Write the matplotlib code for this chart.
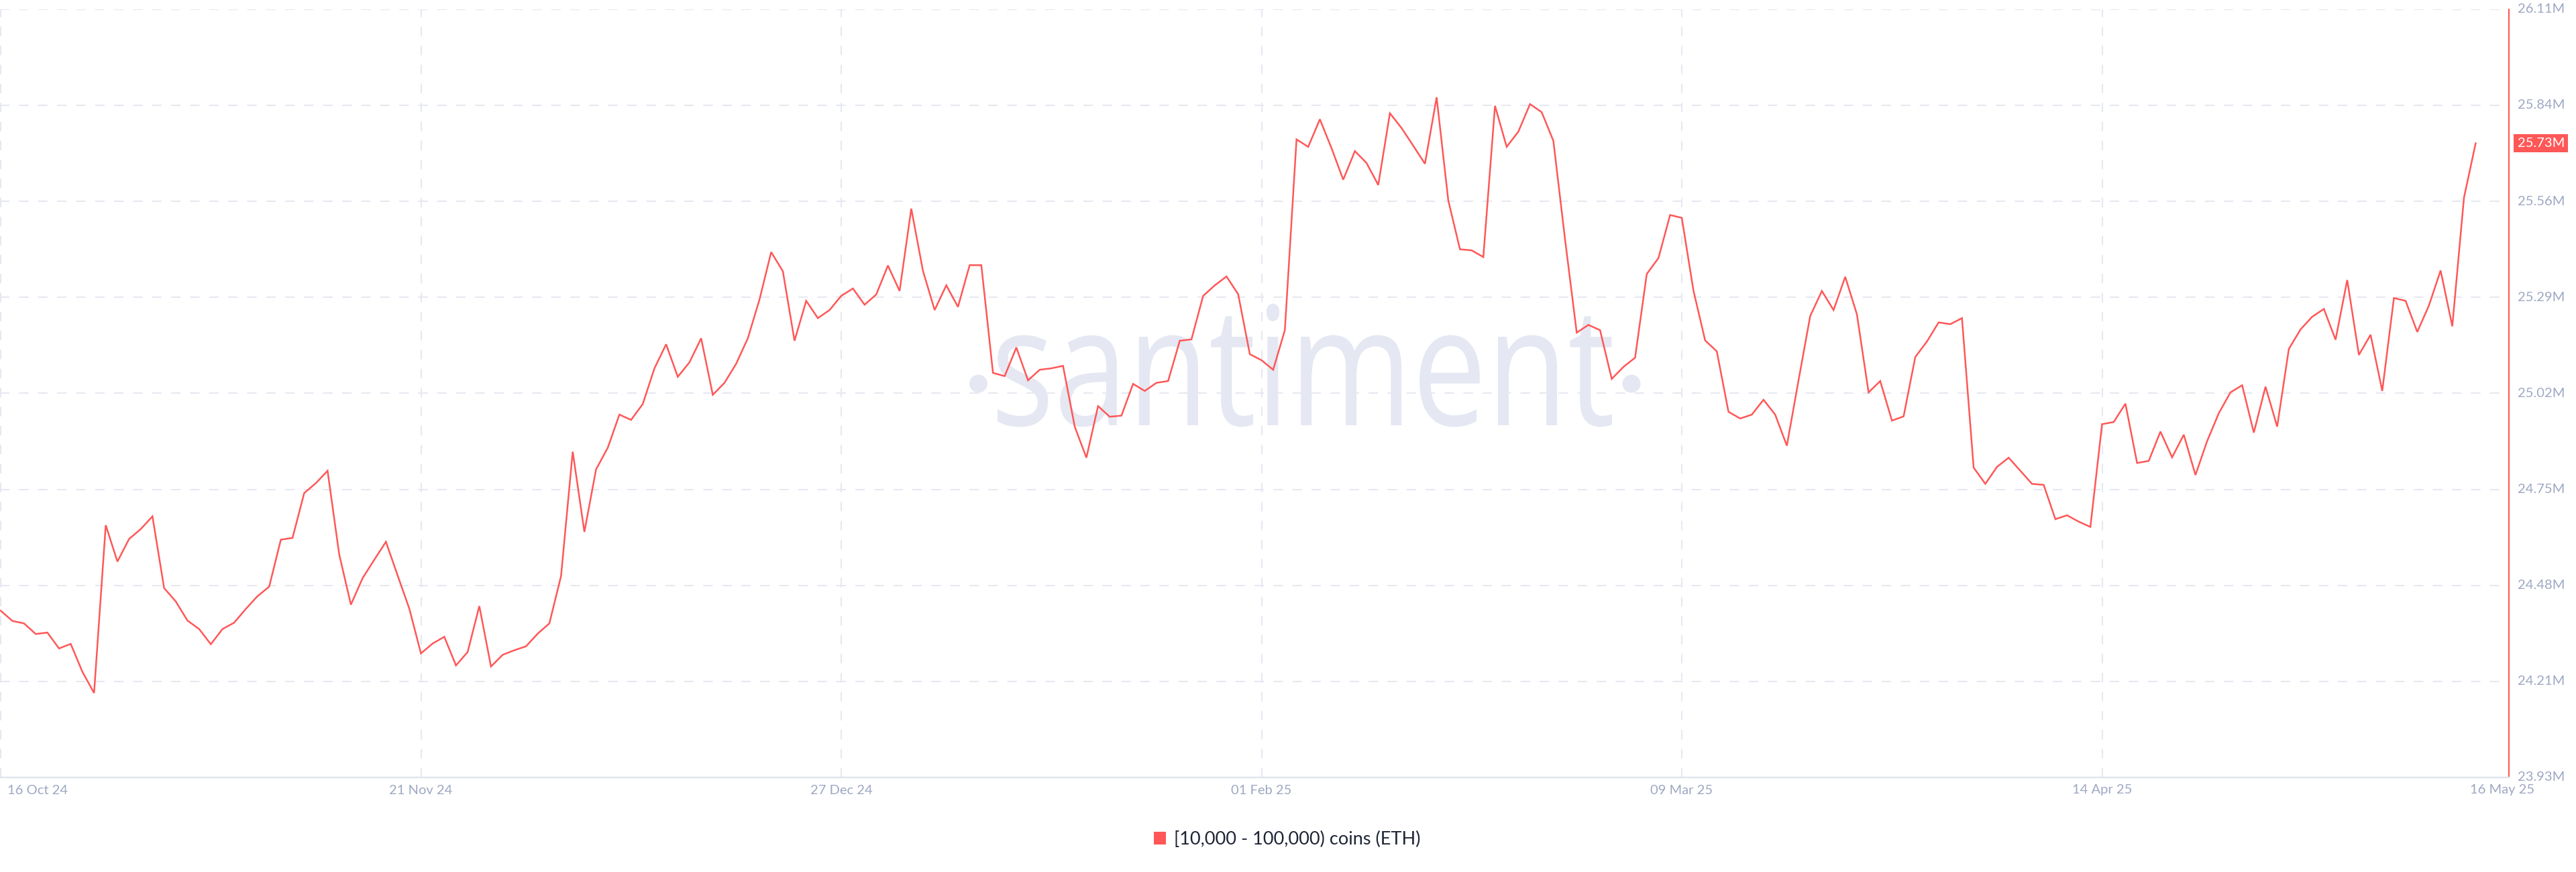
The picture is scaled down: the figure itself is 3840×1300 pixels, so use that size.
import matplotlib
matplotlib.use("Agg")
import matplotlib.pyplot as plt
import matplotlib.dates as mdates
import matplotlib.transforms as mtransforms
from matplotlib.textpath import TextPath
from matplotlib.patches import PathPatch, Patch, Ellipse
from matplotlib.font_manager import FontProperties
import pandas as pd
import numpy as np

# ---------------- data (millions of addresses) ----------------
start_date = "2024-10-16"
vals_oct_nov = [24.406, 24.377, 24.370, 24.340, 24.344, 24.299, 24.312, 24.233, 24.173, 24.648,
                24.545, 24.609, 24.637, 24.673, 24.470, 24.432, 24.378, 24.354, 24.311, 24.354,
                24.372, 24.411, 24.447, 24.474, 24.607, 24.612, 24.739, 24.767, 24.802, 24.565,
                24.423, 24.498, 24.550, 24.601, 24.506, 24.412, 24.285, 24.313, 24.332, 24.251,
                24.289, 24.419, 24.248, 24.281, 24.294, 24.305]
vals_dec = [24.341, 24.370, 24.504, 24.856, 24.629, 24.806, 24.867, 24.961, 24.946, 24.991,
            25.092, 25.160, 25.068, 25.109, 25.177, 25.017, 25.051, 25.105, 25.177, 25.287,
            25.421, 25.367, 25.170, 25.283, 25.234, 25.257, 25.297, 25.318, 25.272, 25.301,
            25.383]
vals_jan = [25.311, 25.544, 25.368, 25.257, 25.327, 25.266, 25.384, 25.384, 25.079, 25.070,
            25.151, 25.058, 25.088, 25.092, 25.099, 24.927, 24.839, 24.985, 24.955, 24.958,
            25.048, 25.028, 25.051, 25.056, 25.170, 25.174, 25.297, 25.327, 25.352, 25.302,
            25.132]
vals_feb = [25.115, 25.088, 25.200, 25.740, 25.719, 25.797, 25.715, 25.626, 25.707, 25.673,
            25.611, 25.814, 25.772, 25.722, 25.671, 25.859, 25.567, 25.429, 25.426, 25.407,
            25.835, 25.719, 25.762, 25.840, 25.817, 25.736, 25.457, 25.193]
vals_mar = [25.215, 25.200, 25.062, 25.096, 25.122, 25.359, 25.404, 25.526, 25.518, 25.312,
            25.171, 25.140, 24.969, 24.950, 24.961, 25.003, 24.961, 24.873, 25.058, 25.240,
            25.311, 25.257, 25.351, 25.245, 25.024, 25.056, 24.944, 24.956, 25.124, 25.168,
            25.222]
vals_apr = [25.217, 25.234, 24.811, 24.765, 24.813, 24.839, 24.802, 24.765, 24.762, 24.665,
            24.676, 24.658, 24.643, 24.934, 24.940, 24.992, 24.824, 24.830, 24.913, 24.840,
            24.904, 24.790, 24.886, 24.965, 25.024, 25.044, 24.910, 25.040, 24.927, 25.147]
vals_may = [25.202, 25.238, 25.260, 25.173, 25.342, 25.130, 25.187, 25.028, 25.291, 25.283,
            25.195, 25.270, 25.369, 25.211, 25.575, 25.729]

values = vals_oct_nov + vals_dec + vals_jan + vals_feb + vals_mar + vals_apr + vals_may
dates = pd.date_range(start_date, periods=len(values), freq="D")

y_ticks = [23.934, 24.2058, 24.4776, 24.7494, 25.0212, 25.2930, 25.5648, 25.8366, 26.1084]
y_tick_labels = ["23.93M", "24.21M", "24.48M", "24.75M", "25.02M", "25.29M", "25.56M", "25.84M", "26.11M"]
x_tick_dates = ["2024-10-16", "2024-11-21", "2024-12-27", "2025-02-01", "2025-03-09", "2025-04-14", "2025-05-16"]
x_tick_labels = ["16 Oct 24", "21 Nov 24", "27 Dec 24", "01 Feb 25", "09 Mar 25", "14 Apr 25", "16 May 25"]
series_label = "[10,000 - 100,000) coins (ETH)"
last_label = "25.73M"

# ---------------- style ----------------
RED = "#ff5757"
GRID = "#e6e8f1"
TICK = "#9ea8c3"
WATER = "#e5e8f2"
FONT = ["Lato", "DejaVu Sans"]
plt.rcParams["font.family"] = FONT

W, H, DPI = 3840, 1300, 100
fig = plt.figure(figsize=(W / DPI, H / DPI), dpi=DPI)
fig.patch.set_facecolor("white")

ax_left, ax_right = 0 / W, 3740 / W
ax_bottom, ax_top = (H - 1159) / H, (H - 13.8) / H
ax = fig.add_axes([ax_left, ax_bottom, ax_right - ax_left, ax_top - ax_bottom])
ax.set_facecolor("none")

xnum = mdates.date2num(dates)
x0 = xnum[0]
tick_x = mdates.date2num(pd.to_datetime(x_tick_dates))
ax.set_xlim(x0 - 0.0575, x0 + 214.85)
ax.set_ylim(y_ticks[0], y_ticks[-1])

# watermark  "·santiment·"
fp = FontProperties(family="Open Sans", weight="normal")
tp = TextPath((0, 0), "santiment", size=100, prop=fp)
xp = TextPath((0, 0), "x", size=100, prop=fp)
bb = tp.get_extents()
xh = xp.get_extents().height
sx = (2403 - 1487) / bb.width
sy = 132 / xh
wm_tr = (mtransforms.Affine2D().translate(-bb.x0, 0).scale(sx, sy)
         .translate(1487, H - 634))
ident = mtransforms.IdentityTransform()
fig.add_artist(PathPatch(tp, facecolor=WATER, edgecolor="none",
                         transform=wm_tr + ident, zorder=0))
for cx in (1458.5, 2432):
    fig.add_artist(Ellipse((cx, H - 572), 27, 27, facecolor=WATER, edgecolor="none",
                           transform=ident, zorder=0))

# grid
dash = (0, (6.8, 6.8))
for y in y_ticks[1:]:
    ax.axhline(y, color=GRID, lw=1.5, linestyle=dash, zorder=1)
for xv in tick_x[:-1]:
    ax.axvline(xv, color=GRID, lw=1.5, linestyle=dash, zorder=1)

# series
ax.plot(xnum, values, color=RED, lw=1.8, solid_joinstyle="miter", zorder=3)

# spines
for s in ["left", "top"]:
    ax.spines[s].set_visible(False)
ax.spines["bottom"].set_color("#dfe3ec")
ax.spines["bottom"].set_linewidth(1.6)
ax.spines["right"].set_color(RED)
ax.spines["right"].set_linewidth(1.5)
ax.set_xticks([])
ax.set_yticks([])

# y labels
ytr = ax.get_yaxis_transform()
for y, lab in zip(y_ticks, y_tick_labels):
    ax.annotate(lab, xy=(1, y), xycoords=ytr, xytext=(12.5, 0), textcoords="offset pixels",
                ha="left", va="center", fontsize=14.5, color=TICK, annotation_clip=False)
ax.annotate(last_label, xy=(1, values[-1]), xycoords=ytr, xytext=(12.5, 0),
            textcoords="offset pixels", ha="left", va="center", fontsize=14.5, color="white",
            annotation_clip=False, zorder=5,
            bbox=dict(boxstyle="square,pad=0.25", fc=RED, ec="none"))

# x labels
xtr = ax.get_xaxis_transform()
for i, (xv, lab) in enumerate(zip(tick_x, x_tick_labels)):
    if i == 0:
        ha, dx = "left", 10
    elif i == len(tick_x) - 1:
        ha, dx = "center", 40
    else:
        ha, dx = "center", 0
    ax.annotate(lab, xy=(xv, 0), xycoords=xtr, xytext=(dx, -19),
                textcoords="offset pixels", ha=ha, va="center", fontsize=14.5, color=TICK,
                annotation_clip=False)

# legend
fig.legend(handles=[Patch(facecolor=RED, edgecolor="none", label=series_label)],
           loc="center", bbox_to_anchor=(1919 / W, 1 - 1251 / H), frameon=False,
           fontsize=19.5, handlelength=0.65, handleheight=0.7, handletextpad=0.45,
           labelcolor="#1e2434", borderpad=0, borderaxespad=0)

fig.savefig("out.png", dpi=DPI, facecolor="white")
